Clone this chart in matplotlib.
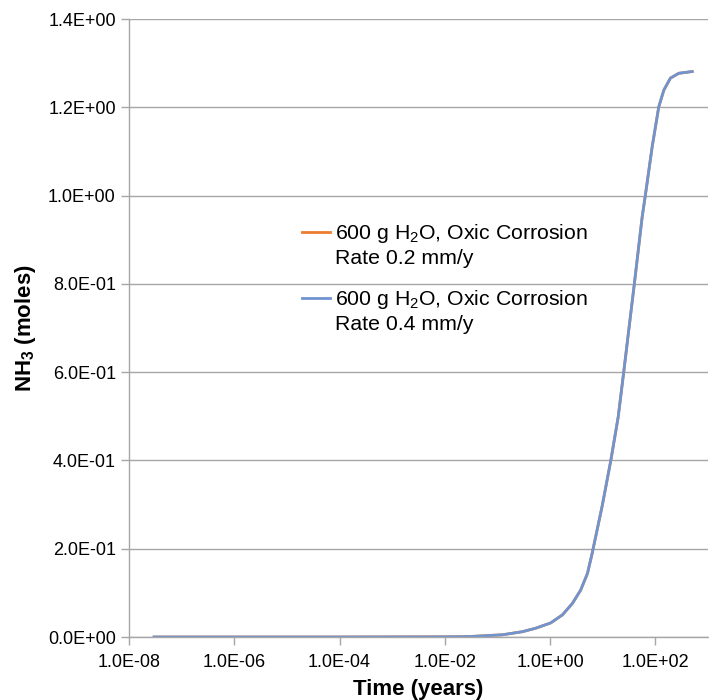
import matplotlib
matplotlib.use('Agg')
import matplotlib.pyplot as plt
from matplotlib.ticker import FuncFormatter, FixedLocator, NullLocator
from matplotlib.legend_handler import HandlerLine2D

plt.rcParams['font.family'] = ['Liberation Sans', 'DejaVu Sans']
plt.rcParams['mathtext.fontset'] = 'custom'
plt.rcParams['mathtext.rm'] = 'Liberation Sans'
plt.rcParams['mathtext.bf'] = 'Liberation Sans:bold'
plt.rcParams['mathtext.default'] = 'regular'

# time in years, NH3 in moles
time_years = [3e-8, 1e-4, 1e-2, 0.0292, 0.124, 0.297, 0.537, 1.03, 1.71, 2.65, 3.80,
              5.13, 6.31, 9.77, 14.3, 19.7, 25.1, 32.4, 40.7, 56.2, 64.6, 87.1,
              116, 145, 193, 279, 501]
nh3_rate_02 = [0.0, 0.0, 0.0004, 0.001, 0.005, 0.012, 0.020, 0.032, 0.050, 0.076, 0.106,
               0.144, 0.190, 0.297, 0.401, 0.499, 0.601, 0.711, 0.809, 0.952, 1.001, 1.111,
               1.201, 1.239, 1.266, 1.277, 1.281]
nh3_rate_04 = list(nh3_rate_02)

labels = ['600 g H$_2$O, Oxic Corrosion\nRate 0.2 mm/y',
          '600 g H$_2$O, Oxic Corrosion\nRate 0.4 mm/y']
colors = ['#ED7D31', '#7094CF']
x_ticks = [1e-8, 1e-6, 1e-4, 1e-2, 1e0, 1e2]
y_ticks = [0.0, 0.2, 0.4, 0.6, 0.8, 1.0, 1.2, 1.4]


# put the legend line next to the first line of a two-line label
class FirstLineHandler(HandlerLine2D):
    def create_artists(self, legend, orig_handle, xdescent, ydescent, width, height, fontsize, trans):
        arts = super().create_artists(legend, orig_handle, xdescent, ydescent, width, height, fontsize, trans)
        for a in arts:
            a.set_ydata([v + 0.62 * fontsize for v in a.get_ydata()])
        return arts


fig = plt.figure(figsize=(7.09, 7.0), dpi=100)
ax = fig.add_axes([129 / 709, 1 - 637 / 700, 1 - 129 / 709 - 1 / 709, (637 - 19) / 700])

ax.plot(time_years, nh3_rate_02, color=colors[0], lw=2, label=labels[0], solid_joinstyle='round')
ax.plot(time_years, nh3_rate_04, color=colors[1], lw=2, label=labels[1], solid_joinstyle='round')

ax.set_xscale('log')
ax.set_xlim(1e-8, 1e3)
ax.set_ylim(0, 1.4)
ax.xaxis.set_major_locator(FixedLocator(x_ticks))
ax.xaxis.set_minor_locator(NullLocator())
ax.set_yticks(y_ticks)
ax.xaxis.set_major_formatter(FuncFormatter(lambda v, p: '%.1E' % v))
ax.yaxis.set_major_formatter(FuncFormatter(lambda v, p: '%.1E' % v))

ax.grid(axis='y', color='#A6A6A6', lw=1)
ax.set_axisbelow(True)
for s in ['top', 'right']:
    ax.spines[s].set_visible(False)
for s in ['left', 'bottom']:
    ax.spines[s].set_color('#A6A6A6')
    ax.spines[s].set_linewidth(1)
ax.tick_params(axis='both', colors='#A6A6A6', length=6, width=1, labelsize=13,
               labelcolor='black', direction='out')
ax.tick_params(axis='x', pad=6)

ax.set_xlabel('Time (years)', fontsize=16, fontweight='bold', labelpad=6)
ax.set_ylabel('NH$_3$ (moles)', fontsize=16, fontweight='bold', labelpad=7)

leg = ax.legend(loc='upper left', bbox_to_anchor=(302 / 709, 1 - 222 / 700),
                bbox_transform=fig.transFigure, frameon=False, fontsize=15.3,
                borderpad=0, borderaxespad=0, handlelength=1.3, handletextpad=0.25,
                labelspacing=0.9, handler_map={plt.Line2D: FirstLineHandler()})
for t in leg.get_texts():
    t.set_linespacing(1.3)

fig.savefig('out.png', dpi=100)
